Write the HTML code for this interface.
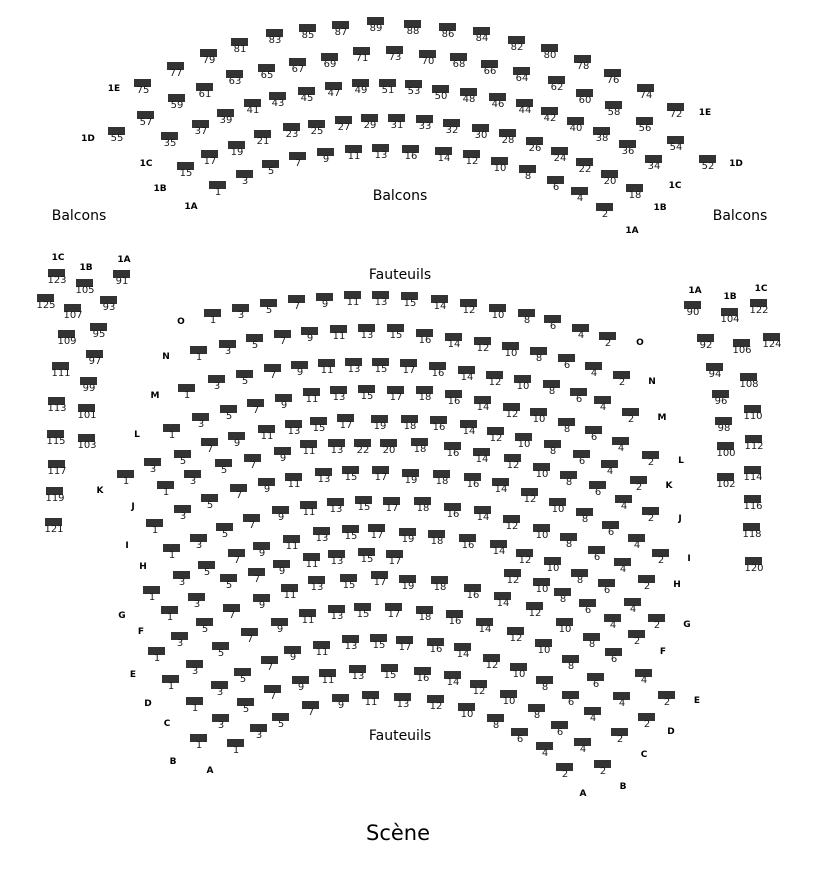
<!DOCTYPE html>
<html><head><meta charset="utf-8"><style>
html,body{margin:0;padding:0;background:#fff}
svg{display:block}
.s text{font:10px "DejaVu Sans","Liberation Sans",sans-serif;fill:#1a1a1a;text-anchor:middle;transform:translateY(3px)}
.l{font:bold 9px "DejaVu Sans","Liberation Sans",sans-serif;fill:#000;text-anchor:middle}
.t{font:14px "DejaVu Sans","Liberation Sans",sans-serif;fill:#000;text-anchor:middle}
</style></head><body>
<svg width="816" height="884" viewBox="0 0 816 884" xmlns="http://www.w3.org/2000/svg">
<defs><rect id="r" x="-9" y="-7" width="17" height="8" fill="#333"/></defs>
<g class="s">
<use href="#r" x="143" y="86"/><text x="143" y="90">75</text>
<use href="#r" x="176" y="69"/><text x="176" y="73">77</text>
<use href="#r" x="209" y="56"/><text x="209" y="60">79</text>
<use href="#r" x="240" y="45"/><text x="240" y="49">81</text>
<use href="#r" x="275" y="36"/><text x="275" y="40">83</text>
<use href="#r" x="308" y="31"/><text x="308" y="35">85</text>
<use href="#r" x="341" y="28"/><text x="341" y="32">87</text>
<use href="#r" x="376" y="24"/><text x="376" y="28">89</text>
<use href="#r" x="413" y="27"/><text x="413" y="31">88</text>
<use href="#r" x="448" y="30"/><text x="448" y="34">86</text>
<use href="#r" x="482" y="34"/><text x="482" y="38">84</text>
<use href="#r" x="517" y="43"/><text x="517" y="47">82</text>
<use href="#r" x="550" y="51"/><text x="550" y="55">80</text>
<use href="#r" x="583" y="62"/><text x="583" y="66">78</text>
<use href="#r" x="613" y="76"/><text x="613" y="80">76</text>
<use href="#r" x="646" y="91"/><text x="646" y="95">74</text>
<use href="#r" x="676" y="110"/><text x="676" y="114">72</text>
<use href="#r" x="117" y="134"/><text x="117" y="138">55</text>
<use href="#r" x="146" y="118"/><text x="146" y="122">57</text>
<use href="#r" x="177" y="101"/><text x="177" y="105">59</text>
<use href="#r" x="205" y="90"/><text x="205" y="94">61</text>
<use href="#r" x="235" y="77"/><text x="235" y="81">63</text>
<use href="#r" x="267" y="71"/><text x="267" y="75">65</text>
<use href="#r" x="298" y="65"/><text x="298" y="69">67</text>
<use href="#r" x="330" y="60"/><text x="330" y="64">69</text>
<use href="#r" x="362" y="54"/><text x="362" y="58">71</text>
<use href="#r" x="395" y="53"/><text x="395" y="57">73</text>
<use href="#r" x="428" y="57"/><text x="428" y="61">70</text>
<use href="#r" x="459" y="60"/><text x="459" y="64">68</text>
<use href="#r" x="490" y="67"/><text x="490" y="71">66</text>
<use href="#r" x="522" y="74"/><text x="522" y="78">64</text>
<use href="#r" x="557" y="83"/><text x="557" y="87">62</text>
<use href="#r" x="585" y="96"/><text x="585" y="100">60</text>
<use href="#r" x="614" y="108"/><text x="614" y="112">58</text>
<use href="#r" x="645" y="124"/><text x="645" y="128">56</text>
<use href="#r" x="676" y="143"/><text x="676" y="147">54</text>
<use href="#r" x="708" y="162"/><text x="708" y="166">52</text>
<use href="#r" x="170" y="139"/><text x="170" y="143">35</text>
<use href="#r" x="201" y="127"/><text x="201" y="131">37</text>
<use href="#r" x="226" y="116"/><text x="226" y="120">39</text>
<use href="#r" x="253" y="106"/><text x="253" y="110">41</text>
<use href="#r" x="278" y="99"/><text x="278" y="103">43</text>
<use href="#r" x="307" y="94"/><text x="307" y="98">45</text>
<use href="#r" x="334" y="89"/><text x="334" y="93">47</text>
<use href="#r" x="361" y="86"/><text x="361" y="90">49</text>
<use href="#r" x="388" y="86"/><text x="388" y="90">51</text>
<use href="#r" x="414" y="87"/><text x="414" y="91">53</text>
<use href="#r" x="441" y="92"/><text x="441" y="96">50</text>
<use href="#r" x="469" y="95"/><text x="469" y="99">48</text>
<use href="#r" x="498" y="100"/><text x="498" y="104">46</text>
<use href="#r" x="525" y="106"/><text x="525" y="110">44</text>
<use href="#r" x="550" y="114"/><text x="550" y="118">42</text>
<use href="#r" x="576" y="124"/><text x="576" y="128">40</text>
<use href="#r" x="602" y="134"/><text x="602" y="138">38</text>
<use href="#r" x="628" y="147"/><text x="628" y="151">36</text>
<use href="#r" x="654" y="162"/><text x="654" y="166">34</text>
<use href="#r" x="186" y="169"/><text x="186" y="173">15</text>
<use href="#r" x="210" y="157"/><text x="210" y="161">17</text>
<use href="#r" x="237" y="148"/><text x="237" y="152">19</text>
<use href="#r" x="263" y="137"/><text x="263" y="141">21</text>
<use href="#r" x="292" y="130"/><text x="292" y="134">23</text>
<use href="#r" x="317" y="127"/><text x="317" y="131">25</text>
<use href="#r" x="344" y="123"/><text x="344" y="127">27</text>
<use href="#r" x="370" y="121"/><text x="370" y="125">29</text>
<use href="#r" x="397" y="121"/><text x="397" y="125">31</text>
<use href="#r" x="425" y="122"/><text x="425" y="126">33</text>
<use href="#r" x="452" y="126"/><text x="452" y="130">32</text>
<use href="#r" x="481" y="131"/><text x="481" y="135">30</text>
<use href="#r" x="508" y="136"/><text x="508" y="140">28</text>
<use href="#r" x="535" y="144"/><text x="535" y="148">26</text>
<use href="#r" x="560" y="154"/><text x="560" y="158">24</text>
<use href="#r" x="585" y="165"/><text x="585" y="169">22</text>
<use href="#r" x="610" y="177"/><text x="610" y="181">20</text>
<use href="#r" x="635" y="191"/><text x="635" y="195">18</text>
<use href="#r" x="218" y="188"/><text x="218" y="192">1</text>
<use href="#r" x="245" y="177"/><text x="245" y="181">3</text>
<use href="#r" x="271" y="167"/><text x="271" y="171">5</text>
<use href="#r" x="298" y="159"/><text x="298" y="163">7</text>
<use href="#r" x="326" y="155"/><text x="326" y="159">9</text>
<use href="#r" x="354" y="152"/><text x="354" y="156">11</text>
<use href="#r" x="381" y="151"/><text x="381" y="155">13</text>
<use href="#r" x="411" y="152"/><text x="411" y="156">16</text>
<use href="#r" x="444" y="154"/><text x="444" y="158">14</text>
<use href="#r" x="472" y="157"/><text x="472" y="161">12</text>
<use href="#r" x="500" y="164"/><text x="500" y="168">10</text>
<use href="#r" x="528" y="172"/><text x="528" y="176">8</text>
<use href="#r" x="556" y="183"/><text x="556" y="187">6</text>
<use href="#r" x="580" y="194"/><text x="580" y="198">4</text>
<use href="#r" x="605" y="210"/><text x="605" y="214">2</text>
<use href="#r" x="57" y="276"/><text x="57" y="280">123</text>
<use href="#r" x="85" y="286"/><text x="85" y="290">105</text>
<use href="#r" x="122" y="277"/><text x="122" y="281">91</text>
<use href="#r" x="46" y="301"/><text x="46" y="305">125</text>
<use href="#r" x="109" y="303"/><text x="109" y="307">93</text>
<use href="#r" x="73" y="311"/><text x="73" y="315">107</text>
<use href="#r" x="67" y="337"/><text x="67" y="341">109</text>
<use href="#r" x="99" y="330"/><text x="99" y="334">95</text>
<use href="#r" x="95" y="357"/><text x="95" y="361">97</text>
<use href="#r" x="61" y="369"/><text x="61" y="373">111</text>
<use href="#r" x="89" y="384"/><text x="89" y="388">99</text>
<use href="#r" x="57" y="404"/><text x="57" y="408">113</text>
<use href="#r" x="87" y="411"/><text x="87" y="415">101</text>
<use href="#r" x="56" y="437"/><text x="56" y="441">115</text>
<use href="#r" x="87" y="441"/><text x="87" y="445">103</text>
<use href="#r" x="57" y="467"/><text x="57" y="471">117</text>
<use href="#r" x="55" y="494"/><text x="55" y="498">119</text>
<use href="#r" x="54" y="525"/><text x="54" y="529">121</text>
<use href="#r" x="693" y="308"/><text x="693" y="312">90</text>
<use href="#r" x="730" y="315"/><text x="730" y="319">104</text>
<use href="#r" x="759" y="306"/><text x="759" y="310">122</text>
<use href="#r" x="706" y="341"/><text x="706" y="345">92</text>
<use href="#r" x="742" y="346"/><text x="742" y="350">106</text>
<use href="#r" x="772" y="340"/><text x="772" y="344">124</text>
<use href="#r" x="715" y="370"/><text x="715" y="374">94</text>
<use href="#r" x="749" y="380"/><text x="749" y="384">108</text>
<use href="#r" x="721" y="397"/><text x="721" y="401">96</text>
<use href="#r" x="753" y="412"/><text x="753" y="416">110</text>
<use href="#r" x="724" y="424"/><text x="724" y="428">98</text>
<use href="#r" x="754" y="442"/><text x="754" y="446">112</text>
<use href="#r" x="726" y="449"/><text x="726" y="453">100</text>
<use href="#r" x="753" y="473"/><text x="753" y="477">114</text>
<use href="#r" x="726" y="480"/><text x="726" y="484">102</text>
<use href="#r" x="753" y="502"/><text x="753" y="506">116</text>
<use href="#r" x="752" y="530"/><text x="752" y="534">118</text>
<use href="#r" x="754" y="564"/><text x="754" y="568">120</text>
<use href="#r" x="213" y="316"/><text x="213" y="320">1</text>
<use href="#r" x="241" y="311"/><text x="241" y="315">3</text>
<use href="#r" x="269" y="306"/><text x="269" y="310">5</text>
<use href="#r" x="297" y="302"/><text x="297" y="306">7</text>
<use href="#r" x="325" y="300"/><text x="325" y="304">9</text>
<use href="#r" x="353" y="298"/><text x="353" y="302">11</text>
<use href="#r" x="381" y="298"/><text x="381" y="302">13</text>
<use href="#r" x="410" y="299"/><text x="410" y="303">15</text>
<use href="#r" x="440" y="302"/><text x="440" y="306">14</text>
<use href="#r" x="469" y="306"/><text x="469" y="310">12</text>
<use href="#r" x="498" y="311"/><text x="498" y="315">10</text>
<use href="#r" x="527" y="316"/><text x="527" y="320">8</text>
<use href="#r" x="553" y="322"/><text x="553" y="326">6</text>
<use href="#r" x="581" y="331"/><text x="581" y="335">4</text>
<use href="#r" x="608" y="339"/><text x="608" y="343">2</text>
<use href="#r" x="199" y="353"/><text x="199" y="357">1</text>
<use href="#r" x="228" y="347"/><text x="228" y="351">3</text>
<use href="#r" x="255" y="341"/><text x="255" y="345">5</text>
<use href="#r" x="283" y="337"/><text x="283" y="341">7</text>
<use href="#r" x="310" y="334"/><text x="310" y="338">9</text>
<use href="#r" x="339" y="332"/><text x="339" y="336">11</text>
<use href="#r" x="367" y="331"/><text x="367" y="335">13</text>
<use href="#r" x="396" y="331"/><text x="396" y="335">15</text>
<use href="#r" x="425" y="336"/><text x="425" y="340">16</text>
<use href="#r" x="454" y="340"/><text x="454" y="344">14</text>
<use href="#r" x="483" y="344"/><text x="483" y="348">12</text>
<use href="#r" x="511" y="349"/><text x="511" y="353">10</text>
<use href="#r" x="539" y="354"/><text x="539" y="358">8</text>
<use href="#r" x="567" y="361"/><text x="567" y="365">6</text>
<use href="#r" x="594" y="369"/><text x="594" y="373">4</text>
<use href="#r" x="622" y="378"/><text x="622" y="382">2</text>
<use href="#r" x="187" y="391"/><text x="187" y="395">1</text>
<use href="#r" x="217" y="382"/><text x="217" y="386">3</text>
<use href="#r" x="245" y="377"/><text x="245" y="381">5</text>
<use href="#r" x="273" y="371"/><text x="273" y="375">7</text>
<use href="#r" x="300" y="368"/><text x="300" y="372">9</text>
<use href="#r" x="327" y="366"/><text x="327" y="370">11</text>
<use href="#r" x="354" y="365"/><text x="354" y="369">13</text>
<use href="#r" x="381" y="365"/><text x="381" y="369">15</text>
<use href="#r" x="409" y="366"/><text x="409" y="370">17</text>
<use href="#r" x="438" y="369"/><text x="438" y="373">16</text>
<use href="#r" x="467" y="373"/><text x="467" y="377">14</text>
<use href="#r" x="495" y="378"/><text x="495" y="382">12</text>
<use href="#r" x="523" y="382"/><text x="523" y="386">10</text>
<use href="#r" x="552" y="387"/><text x="552" y="391">8</text>
<use href="#r" x="579" y="395"/><text x="579" y="399">6</text>
<use href="#r" x="603" y="403"/><text x="603" y="407">4</text>
<use href="#r" x="631" y="415"/><text x="631" y="419">2</text>
<use href="#r" x="312" y="395"/><text x="312" y="399">11</text>
<use href="#r" x="339" y="393"/><text x="339" y="397">13</text>
<use href="#r" x="367" y="392"/><text x="367" y="396">15</text>
<use href="#r" x="396" y="393"/><text x="396" y="397">17</text>
<use href="#r" x="256" y="406"/><text x="256" y="410">7</text>
<use href="#r" x="284" y="401"/><text x="284" y="405">9</text>
<use href="#r" x="229" y="412"/><text x="229" y="416">5</text>
<use href="#r" x="201" y="420"/><text x="201" y="424">3</text>
<use href="#r" x="172" y="431"/><text x="172" y="435">1</text>
<use href="#r" x="267" y="432"/><text x="267" y="436">11</text>
<use href="#r" x="294" y="427"/><text x="294" y="431">13</text>
<use href="#r" x="319" y="424"/><text x="319" y="428">15</text>
<use href="#r" x="346" y="421"/><text x="346" y="425">17</text>
<use href="#r" x="380" y="422"/><text x="380" y="426">19</text>
<use href="#r" x="210" y="445"/><text x="210" y="449">7</text>
<use href="#r" x="237" y="439"/><text x="237" y="443">9</text>
<use href="#r" x="309" y="447"/><text x="309" y="451">11</text>
<use href="#r" x="337" y="446"/><text x="337" y="450">13</text>
<use href="#r" x="363" y="446"/><text x="363" y="450">22</text>
<use href="#r" x="389" y="446"/><text x="389" y="450">20</text>
<use href="#r" x="183" y="457"/><text x="183" y="461">5</text>
<use href="#r" x="153" y="465"/><text x="153" y="469">3</text>
<use href="#r" x="253" y="461"/><text x="253" y="465">7</text>
<use href="#r" x="283" y="454"/><text x="283" y="458">9</text>
<use href="#r" x="224" y="466"/><text x="224" y="470">5</text>
<use href="#r" x="126" y="477"/><text x="126" y="481">1</text>
<use href="#r" x="193" y="477"/><text x="193" y="481">3</text>
<use href="#r" x="166" y="488"/><text x="166" y="492">1</text>
<use href="#r" x="239" y="491"/><text x="239" y="495">7</text>
<use href="#r" x="267" y="485"/><text x="267" y="489">9</text>
<use href="#r" x="294" y="480"/><text x="294" y="484">11</text>
<use href="#r" x="324" y="475"/><text x="324" y="479">13</text>
<use href="#r" x="351" y="473"/><text x="351" y="477">15</text>
<use href="#r" x="381" y="473"/><text x="381" y="477">17</text>
<use href="#r" x="210" y="501"/><text x="210" y="505">5</text>
<use href="#r" x="183" y="512"/><text x="183" y="516">3</text>
<use href="#r" x="155" y="526"/><text x="155" y="530">1</text>
<use href="#r" x="252" y="521"/><text x="252" y="525">7</text>
<use href="#r" x="281" y="513"/><text x="281" y="517">9</text>
<use href="#r" x="309" y="508"/><text x="309" y="512">11</text>
<use href="#r" x="336" y="505"/><text x="336" y="509">13</text>
<use href="#r" x="364" y="503"/><text x="364" y="507">15</text>
<use href="#r" x="392" y="504"/><text x="392" y="508">17</text>
<use href="#r" x="225" y="530"/><text x="225" y="534">5</text>
<use href="#r" x="199" y="541"/><text x="199" y="545">3</text>
<use href="#r" x="172" y="551"/><text x="172" y="555">1</text>
<use href="#r" x="262" y="549"/><text x="262" y="553">9</text>
<use href="#r" x="292" y="542"/><text x="292" y="546">11</text>
<use href="#r" x="322" y="534"/><text x="322" y="538">13</text>
<use href="#r" x="351" y="532"/><text x="351" y="536">15</text>
<use href="#r" x="377" y="531"/><text x="377" y="535">17</text>
<use href="#r" x="237" y="556"/><text x="237" y="560">7</text>
<use href="#r" x="207" y="568"/><text x="207" y="572">5</text>
<use href="#r" x="182" y="578"/><text x="182" y="582">3</text>
<use href="#r" x="257" y="575"/><text x="257" y="579">7</text>
<use href="#r" x="282" y="567"/><text x="282" y="571">9</text>
<use href="#r" x="312" y="560"/><text x="312" y="564">11</text>
<use href="#r" x="337" y="557"/><text x="337" y="561">13</text>
<use href="#r" x="367" y="555"/><text x="367" y="559">15</text>
<use href="#r" x="395" y="557"/><text x="395" y="561">17</text>
<use href="#r" x="229" y="581"/><text x="229" y="585">5</text>
<use href="#r" x="317" y="583"/><text x="317" y="587">13</text>
<use href="#r" x="349" y="581"/><text x="349" y="585">15</text>
<use href="#r" x="380" y="578"/><text x="380" y="582">17</text>
<use href="#r" x="152" y="593"/><text x="152" y="597">1</text>
<use href="#r" x="197" y="600"/><text x="197" y="604">3</text>
<use href="#r" x="262" y="601"/><text x="262" y="605">9</text>
<use href="#r" x="290" y="591"/><text x="290" y="595">11</text>
<use href="#r" x="170" y="613"/><text x="170" y="617">1</text>
<use href="#r" x="232" y="611"/><text x="232" y="615">7</text>
<use href="#r" x="205" y="625"/><text x="205" y="629">5</text>
<use href="#r" x="280" y="625"/><text x="280" y="629">9</text>
<use href="#r" x="308" y="616"/><text x="308" y="620">11</text>
<use href="#r" x="337" y="612"/><text x="337" y="616">13</text>
<use href="#r" x="363" y="610"/><text x="363" y="614">15</text>
<use href="#r" x="394" y="610"/><text x="394" y="614">17</text>
<use href="#r" x="180" y="639"/><text x="180" y="643">3</text>
<use href="#r" x="250" y="635"/><text x="250" y="639">7</text>
<use href="#r" x="221" y="649"/><text x="221" y="653">5</text>
<use href="#r" x="157" y="654"/><text x="157" y="658">1</text>
<use href="#r" x="293" y="653"/><text x="293" y="657">9</text>
<use href="#r" x="322" y="648"/><text x="322" y="652">11</text>
<use href="#r" x="351" y="642"/><text x="351" y="646">13</text>
<use href="#r" x="379" y="641"/><text x="379" y="645">15</text>
<use href="#r" x="405" y="643"/><text x="405" y="647">17</text>
<use href="#r" x="195" y="667"/><text x="195" y="671">3</text>
<use href="#r" x="270" y="663"/><text x="270" y="667">7</text>
<use href="#r" x="243" y="675"/><text x="243" y="679">5</text>
<use href="#r" x="171" y="682"/><text x="171" y="686">1</text>
<use href="#r" x="301" y="683"/><text x="301" y="687">9</text>
<use href="#r" x="328" y="676"/><text x="328" y="680">11</text>
<use href="#r" x="358" y="672"/><text x="358" y="676">13</text>
<use href="#r" x="390" y="671"/><text x="390" y="675">15</text>
<use href="#r" x="220" y="688"/><text x="220" y="692">3</text>
<use href="#r" x="273" y="692"/><text x="273" y="696">7</text>
<use href="#r" x="246" y="705"/><text x="246" y="709">5</text>
<use href="#r" x="195" y="704"/><text x="195" y="708">1</text>
<use href="#r" x="311" y="708"/><text x="311" y="712">7</text>
<use href="#r" x="341" y="701"/><text x="341" y="705">9</text>
<use href="#r" x="371" y="698"/><text x="371" y="702">11</text>
<use href="#r" x="403" y="700"/><text x="403" y="704">13</text>
<use href="#r" x="221" y="721"/><text x="221" y="725">3</text>
<use href="#r" x="281" y="720"/><text x="281" y="724">5</text>
<use href="#r" x="259" y="731"/><text x="259" y="735">3</text>
<use href="#r" x="199" y="741"/><text x="199" y="745">1</text>
<use href="#r" x="236" y="746"/><text x="236" y="750">1</text>
<use href="#r" x="425" y="393"/><text x="425" y="397">18</text>
<use href="#r" x="454" y="397"/><text x="454" y="401">16</text>
<use href="#r" x="483" y="403"/><text x="483" y="407">14</text>
<use href="#r" x="512" y="410"/><text x="512" y="414">12</text>
<use href="#r" x="539" y="415"/><text x="539" y="419">10</text>
<use href="#r" x="567" y="425"/><text x="567" y="429">8</text>
<use href="#r" x="594" y="433"/><text x="594" y="437">6</text>
<use href="#r" x="410" y="422"/><text x="410" y="426">18</text>
<use href="#r" x="439" y="423"/><text x="439" y="427">16</text>
<use href="#r" x="469" y="427"/><text x="469" y="431">14</text>
<use href="#r" x="496" y="434"/><text x="496" y="438">12</text>
<use href="#r" x="524" y="440"/><text x="524" y="444">10</text>
<use href="#r" x="553" y="447"/><text x="553" y="451">8</text>
<use href="#r" x="582" y="457"/><text x="582" y="461">6</text>
<use href="#r" x="621" y="444"/><text x="621" y="448">4</text>
<use href="#r" x="651" y="458"/><text x="651" y="462">2</text>
<use href="#r" x="420" y="445"/><text x="420" y="449">18</text>
<use href="#r" x="453" y="449"/><text x="453" y="453">16</text>
<use href="#r" x="482" y="455"/><text x="482" y="459">14</text>
<use href="#r" x="513" y="461"/><text x="513" y="465">12</text>
<use href="#r" x="542" y="470"/><text x="542" y="474">10</text>
<use href="#r" x="569" y="478"/><text x="569" y="482">8</text>
<use href="#r" x="598" y="488"/><text x="598" y="492">6</text>
<use href="#r" x="610" y="467"/><text x="610" y="471">4</text>
<use href="#r" x="639" y="483"/><text x="639" y="487">2</text>
<use href="#r" x="411" y="476"/><text x="411" y="480">19</text>
<use href="#r" x="442" y="477"/><text x="442" y="481">18</text>
<use href="#r" x="473" y="480"/><text x="473" y="484">16</text>
<use href="#r" x="501" y="485"/><text x="501" y="489">14</text>
<use href="#r" x="530" y="495"/><text x="530" y="499">12</text>
<use href="#r" x="558" y="505"/><text x="558" y="509">10</text>
<use href="#r" x="585" y="515"/><text x="585" y="519">8</text>
<use href="#r" x="611" y="528"/><text x="611" y="532">6</text>
<use href="#r" x="624" y="502"/><text x="624" y="506">4</text>
<use href="#r" x="651" y="514"/><text x="651" y="518">2</text>
<use href="#r" x="423" y="504"/><text x="423" y="508">18</text>
<use href="#r" x="453" y="510"/><text x="453" y="514">16</text>
<use href="#r" x="483" y="513"/><text x="483" y="517">14</text>
<use href="#r" x="512" y="522"/><text x="512" y="526">12</text>
<use href="#r" x="542" y="531"/><text x="542" y="535">10</text>
<use href="#r" x="569" y="540"/><text x="569" y="544">8</text>
<use href="#r" x="597" y="553"/><text x="597" y="557">6</text>
<use href="#r" x="637" y="541"/><text x="637" y="545">4</text>
<use href="#r" x="661" y="556"/><text x="661" y="560">2</text>
<use href="#r" x="408" y="535"/><text x="408" y="539">19</text>
<use href="#r" x="437" y="537"/><text x="437" y="541">18</text>
<use href="#r" x="468" y="541"/><text x="468" y="545">16</text>
<use href="#r" x="499" y="547"/><text x="499" y="551">14</text>
<use href="#r" x="525" y="556"/><text x="525" y="560">12</text>
<use href="#r" x="553" y="564"/><text x="553" y="568">10</text>
<use href="#r" x="623" y="565"/><text x="623" y="569">4</text>
<use href="#r" x="580" y="576"/><text x="580" y="580">8</text>
<use href="#r" x="513" y="576"/><text x="513" y="580">12</text>
<use href="#r" x="647" y="582"/><text x="647" y="586">2</text>
<use href="#r" x="408" y="582"/><text x="408" y="586">19</text>
<use href="#r" x="440" y="583"/><text x="440" y="587">18</text>
<use href="#r" x="607" y="586"/><text x="607" y="590">6</text>
<use href="#r" x="542" y="585"/><text x="542" y="589">10</text>
<use href="#r" x="473" y="591"/><text x="473" y="595">16</text>
<use href="#r" x="503" y="599"/><text x="503" y="603">14</text>
<use href="#r" x="535" y="609"/><text x="535" y="613">12</text>
<use href="#r" x="563" y="595"/><text x="563" y="599">8</text>
<use href="#r" x="588" y="606"/><text x="588" y="610">6</text>
<use href="#r" x="633" y="605"/><text x="633" y="609">4</text>
<use href="#r" x="425" y="613"/><text x="425" y="617">18</text>
<use href="#r" x="455" y="617"/><text x="455" y="621">16</text>
<use href="#r" x="485" y="625"/><text x="485" y="629">14</text>
<use href="#r" x="516" y="634"/><text x="516" y="638">12</text>
<use href="#r" x="565" y="625"/><text x="565" y="629">10</text>
<use href="#r" x="613" y="621"/><text x="613" y="625">4</text>
<use href="#r" x="657" y="621"/><text x="657" y="625">2</text>
<use href="#r" x="592" y="640"/><text x="592" y="644">8</text>
<use href="#r" x="637" y="637"/><text x="637" y="641">2</text>
<use href="#r" x="436" y="645"/><text x="436" y="649">16</text>
<use href="#r" x="463" y="650"/><text x="463" y="654">14</text>
<use href="#r" x="492" y="661"/><text x="492" y="665">12</text>
<use href="#r" x="544" y="646"/><text x="544" y="650">10</text>
<use href="#r" x="571" y="662"/><text x="571" y="666">8</text>
<use href="#r" x="614" y="655"/><text x="614" y="659">6</text>
<use href="#r" x="423" y="674"/><text x="423" y="678">16</text>
<use href="#r" x="453" y="678"/><text x="453" y="682">14</text>
<use href="#r" x="479" y="687"/><text x="479" y="691">12</text>
<use href="#r" x="519" y="670"/><text x="519" y="674">10</text>
<use href="#r" x="545" y="683"/><text x="545" y="687">8</text>
<use href="#r" x="596" y="680"/><text x="596" y="684">6</text>
<use href="#r" x="644" y="676"/><text x="644" y="680">4</text>
<use href="#r" x="436" y="702"/><text x="436" y="706">12</text>
<use href="#r" x="467" y="710"/><text x="467" y="714">10</text>
<use href="#r" x="509" y="697"/><text x="509" y="701">10</text>
<use href="#r" x="571" y="698"/><text x="571" y="702">6</text>
<use href="#r" x="622" y="699"/><text x="622" y="703">4</text>
<use href="#r" x="667" y="698"/><text x="667" y="702">2</text>
<use href="#r" x="496" y="721"/><text x="496" y="725">8</text>
<use href="#r" x="537" y="711"/><text x="537" y="715">8</text>
<use href="#r" x="560" y="728"/><text x="560" y="732">6</text>
<use href="#r" x="593" y="714"/><text x="593" y="718">4</text>
<use href="#r" x="647" y="720"/><text x="647" y="724">2</text>
<use href="#r" x="520" y="735"/><text x="520" y="739">6</text>
<use href="#r" x="545" y="749"/><text x="545" y="753">4</text>
<use href="#r" x="583" y="745"/><text x="583" y="749">4</text>
<use href="#r" x="620" y="735"/><text x="620" y="739">2</text>
<use href="#r" x="565" y="770"/><text x="565" y="774">2</text>
<use href="#r" x="603" y="767"/><text x="603" y="771">2</text>
</g>
<g class="l">
<text x="114" y="91">1E</text><text x="705" y="115">1E</text>
<text x="88" y="141">1D</text><text x="736" y="166">1D</text>
<text x="146" y="166">1C</text><text x="675" y="188">1C</text>
<text x="160" y="191">1B</text><text x="660" y="210">1B</text>
<text x="191" y="209">1A</text><text x="632" y="233">1A</text>
<text x="58" y="260">1C</text><text x="86" y="270">1B</text><text x="124" y="262">1A</text>
<text x="695" y="293">1A</text><text x="730" y="299">1B</text><text x="761" y="291">1C</text>
<text x="181" y="324">O</text><text x="640" y="345">O</text>
<text x="166" y="359">N</text><text x="652" y="384">N</text>
<text x="155" y="398">M</text><text x="662" y="420">M</text>
<text x="137" y="437">L</text><text x="681" y="463">L</text>
<text x="100" y="493">K</text><text x="669" y="488">K</text>
<text x="133" y="509">J</text><text x="680" y="521">J</text>
<text x="127" y="548">I</text><text x="689" y="561">I</text>
<text x="143" y="569">H</text><text x="677" y="587">H</text>
<text x="122" y="618">G</text><text x="687" y="627">G</text>
<text x="141" y="634">F</text><text x="663" y="654">F</text>
<text x="133" y="677">E</text><text x="697" y="703">E</text>
<text x="148" y="706">D</text><text x="671" y="734">D</text>
<text x="167" y="726">C</text><text x="644" y="757">C</text>
<text x="173" y="764">B</text><text x="623" y="789">B</text>
<text x="210" y="773">A</text><text x="583" y="796">A</text>
</g>
<text class="t" x="400" y="200">Balcons</text>
<text class="t" x="79" y="220">Balcons</text>
<text class="t" x="740" y="220">Balcons</text>
<text class="t" x="400" y="279">Fauteuils</text>
<text class="t" x="400" y="740">Fauteuils</text>
<text class="t" x="398" y="840" style="font-size:21px">Scène</text>
</svg>
</body></html>
